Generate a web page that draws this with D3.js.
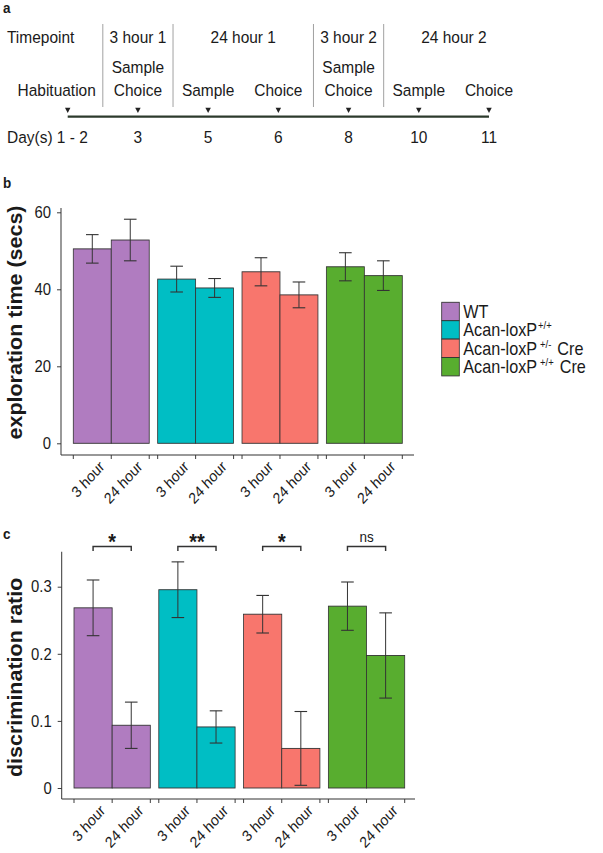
<!DOCTYPE html>
<html><head><meta charset="utf-8">
<script src="https://cdn.jsdelivr.net/npm/d3@7/dist/d3.min.js"></script>
<style>
body{margin:0;background:#fff}
svg{display:block}
text{font-family:"Liberation Sans",Arial,Helvetica,sans-serif;fill:#1a1a1a}
</style>
</head><body>
<svg id="chart" width="603" height="853"></svg>
<script>
// ---------- data ----------
const groups = ["WT", "Acan-loxP+/+", "Acan-loxP+/- Cre", "Acan-loxP+/+ Cre"];
const legendBase = ["WT", "Acan-loxP", "Acan-loxP", "Acan-loxP"];
const legendSup = ["", "+/+", "+/-", "+/+"];
const legendSuffix = ["", "", "Cre", "Cre"];
const timepoints = ["3 hour", "24 hour"];
const colors = ["#B07CC0", "#00BEC4", "#F8766D", "#58AD2F"];

// panel b: exploration time (secs)
const explor3h = [50.5, 42.65, 44.55, 45.85];
const explor3hErr = [3.7, 3.35, 3.65, 3.65];
const explor24h = [52.8, 40.35, 38.55, 43.55];
const explor24hErr = [5.4, 2.45, 3.35, 3.85];
const explorTicks = [0, 20, 40, 60];

// panel c: discrimination ratio
const discr3h = [0.2685, 0.2955, 0.259, 0.271];
const discr3hErr = [0.0415, 0.0415, 0.028, 0.036];
const discr24h = [0.0935, 0.091, 0.059, 0.1975];
const discr24hErr = [0.0345, 0.024, 0.055, 0.0635];
const discrTicks = [0, 0.1, 0.2, 0.3];
const sigLabels = ["*", "**", "*", "ns"];

// panel a: timeline
const eventLabels = ["Habituation", "Choice", "Sample", "Choice", "Choice", "Sample", "Choice"];
const eventAbove = ["", "Sample", "", "", "Sample", "", ""];
const dayLabels = ["1 - 2", "3", "5", "6", "8", "10", "11"];
const periodLabels = ["3 hour 1", "24 hour 1", "3 hour 2", "24 hour 2"];
const periodStart = [1, 2, 4, 5];
const periodEnd = [1, 3, 4, 6];

// ---------- layout ----------
const SX = 0.9;                 // the figure is slightly compressed horizontally
const ux = v => v / SX;
const svg = d3.select("#chart");
const root = svg.append("g").attr("transform", `scale(${SX},1)`);
const INK = "#333";

// panel letters
[["a", 13], ["b", 188], ["c", 539]].forEach(([t, y]) => {
  root.append("text").attr("x", ux(3)).attr("y", y)
    .attr("font-size", 15).attr("font-weight", "bold").text(t);
});

// ---------- panel a ----------
const ev = d3.scalePoint().domain(d3.range(eventLabels.length)).range([ux(67.7), ux(489)]);
const sepX = i => (ev(i - 1) + ev(i)) / 2;
const pa = root.append("g").attr("font-size", 17.2);

periodStart.forEach(s => {
  pa.append("line").attr("x1", sepX(s)).attr("x2", sepX(s))
    .attr("y1", 24).attr("y2", 107).attr("stroke", "#a0a0a0").attr("stroke-width", 1.1);
});
pa.append("text").attr("x", ux(7)).attr("y", 43).text("Timepoint");
periodLabels.forEach((p, i) => {
  pa.append("text").attr("x", (ev(periodStart[i]) + ev(periodEnd[i])) / 2).attr("y", 43)
    .attr("text-anchor", "middle").text(p);
});
eventAbove.forEach((t, i) => {
  if (t) pa.append("text").attr("x", ev(i)).attr("y", 73.5).attr("text-anchor", "middle").text(t);
});
eventLabels.forEach((t, i) => {
  if (i === 0) {
    pa.append("text").attr("x", sepX(1) - ux(7)).attr("y", 96.5).attr("text-anchor", "end").text(t);
  } else {
    pa.append("text").attr("x", ev(i)).attr("y", 96.5).attr("text-anchor", "middle").text(t);
  }
});
pa.append("line").attr("x1", ev(0)).attr("x2", ev(eventLabels.length - 1))
  .attr("y1", 116.7).attr("y2", 116.7).attr("stroke", "#2c3a2c").attr("stroke-width", 2.2);
pa.selectAll("path.tri").data(eventLabels).join("path").attr("class", "tri")
  .attr("d", d3.symbol(d3.symbolTriangle, 16))
  .attr("transform", (d, i) => `translate(${ev(i)},109.5) rotate(180)`)
  .attr("fill", "#222");
dayLabels.forEach((t, i) => {
  if (i === 0) {
    pa.append("text").attr("x", ux(7)).attr("y", 143.5).text("Day(s) " + t);
  } else {
    pa.append("text").attr("x", ev(i)).attr("y", 143.5).attr("text-anchor", "middle").text(t);
  }
});

// ---------- bar panels ----------
function barPanel(o) {
  const g = root.append("g");
  const y = d3.scaleLinear().domain([0, o.ticks[o.ticks.length - 1]]).range([o.y0, o.yTop]);
  const xg = d3.scaleBand().domain(groups).range([ux(o.bandL), ux(o.bandR)]).paddingInner(0.1).paddingOuter(0);
  const xs = d3.scaleBand().domain(timepoints).range([0, xg.bandwidth()]);
  const series = [[o.a, o.aErr], [o.b, o.bErr]];

  const bars = [];
  groups.forEach((grp, i) => {
    timepoints.forEach((tp, j) => {
      bars.push({grp, i, tp, v: series[j][0][i], e: series[j][1][i]});
    });
  });

  g.selectAll("rect.bar").data(bars).join("rect").attr("class", "bar")
    .attr("x", d => xg(d.grp) + xs(d.tp))
    .attr("width", xs.bandwidth())
    .attr("y", d => y(d.v))
    .attr("height", d => y(0) - y(d.v))
    .attr("fill", d => colors[d.i])
    .attr("stroke", INK).attr("stroke-width", 0.9);

  const cx = d => xg(d.grp) + xs(d.tp) + xs.bandwidth() / 2;
  const cap = ux(6.3);
  const eb = g.selectAll("g.err").data(bars).join("g").attr("class", "err")
    .attr("stroke", INK).attr("stroke-width", 1.1);
  eb.append("line").attr("x1", cx).attr("x2", cx).attr("y1", d => y(d.v - d.e)).attr("y2", d => y(d.v + d.e));
  eb.append("line").attr("x1", d => cx(d) - cap).attr("x2", d => cx(d) + cap).attr("y1", d => y(d.v + d.e)).attr("y2", d => y(d.v + d.e));
  eb.append("line").attr("x1", d => cx(d) - cap).attr("x2", d => cx(d) + cap).attr("y1", d => y(d.v - d.e)).attr("y2", d => y(d.v - d.e));

  // y axis
  const ya = g.append("g").attr("transform", `translate(${ux(o.axisX)},0)`)
    .call(d3.axisLeft(y).tickValues(o.ticks).tickSize(ux(4)).tickPadding(ux(6)).tickFormat(o.fmt));
  ya.select(".domain").remove();
  ya.selectAll(".tick line").attr("stroke", INK);
  ya.selectAll(".tick text").attr("font-size", 16.5).attr("fill", "#1a1a1a")
    .attr("font-family", '"Liberation Sans",Arial,Helvetica,sans-serif');
  g.append("line").attr("x1", ux(o.axisX)).attr("x2", ux(o.axisX))
    .attr("y1", o.axisTop).attr("y2", o.axisBottom).attr("stroke", INK).attr("stroke-width", 1.1);

  // x axis
  g.append("line").attr("x1", ux(o.axisX)).attr("x2", ux(o.axisRight))
    .attr("y1", o.axisBottom).attr("y2", o.axisBottom).attr("stroke", INK).attr("stroke-width", 1.1);
  const tickPos = [];
  groups.forEach(grp => {
    tickPos.push(xg(grp), xg(grp) + xg.bandwidth() / 2, xg(grp) + xg.bandwidth());
  });
  g.selectAll("line.xt").data(tickPos).join("line").attr("class", "xt")
    .attr("x1", d => d).attr("x2", d => d)
    .attr("y1", o.axisBottom).attr("y2", o.axisBottom + 4)
    .attr("stroke", INK).attr("stroke-width", 1);
  g.selectAll("text.xl").data(bars).join("text").attr("class", "xl")
    .attr("text-anchor", "end").attr("font-size", 15.5)
    .attr("transform", d => `translate(${cx(d) + ux(13)},${o.axisBottom + o.labelDy}) rotate(-45)`)
    .text(d => d.tp);

  // y title
  g.append("text").attr("transform", `translate(${ux(22)},${(o.titleTop + o.titleBottom) / 2}) rotate(-90)`)
    .attr("text-anchor", "middle").attr("font-size", 21.5).attr("font-weight", "bold").text(o.title);

  return {g, y, xg, xs};
}

barPanel({
  a: explor3h, aErr: explor3hErr, b: explor24h, bErr: explor24hErr,
  ticks: explorTicks, fmt: d3.format("d"),
  y0: 443.3, yTop: 212.3, bandL: 73.3, bandR: 402.3,
  axisX: 61, axisTop: 208, axisBottom: 455, axisRight: 414, labelDy: 12.5,
  title: "exploration time (secs)", titleTop: 205, titleBottom: 440
});

const pc = barPanel({
  a: discr3h, aErr: discr3hErr, b: discr24h, bErr: discr24hErr,
  ticks: discrTicks, fmt: v => v === 0 ? "0" : d3.format(".1f")(v),
  y0: 788, yTop: 586.7, bandL: 74, bandR: 404.7,
  axisX: 61.7, axisTop: 551.7, axisBottom: 799, axisRight: 415, labelDy: 12.5,
  title: "discrimination ratio", titleTop: 576.7, titleBottom: 778
});

// significance brackets
const bracketY = pc.y(0.36);
groups.forEach((grp, i) => {
  const x1 = pc.xg(grp) + pc.xs(timepoints[0]) + pc.xs.bandwidth() / 2;
  const x2 = pc.xg(grp) + pc.xs(timepoints[1]) + pc.xs.bandwidth() / 2;
  pc.g.append("path")
    .attr("d", `M${x1},${bracketY + 4.5}V${bracketY}H${x2}V${bracketY + 4.5}`)
    .attr("fill", "none").attr("stroke", INK).attr("stroke-width", 1.6);
  const isNs = sigLabels[i] === "ns";
  pc.g.append("text").attr("x", (x1 + x2) / 2)
    .attr("y", isNs ? bracketY - 4 : bracketY + 3)
    .attr("text-anchor", "middle")
    .attr("font-size", isNs ? 15 : 22).attr("font-weight", isNs ? "normal" : "bold")
    .text(sigLabels[i]);
});

// legend
const lg = root.append("g");
groups.forEach((grp, i) => {
  const top = 302.3 + i * 18.4;
  lg.append("rect").attr("x", ux(441.7)).attr("y", top).attr("width", ux(17.6)).attr("height", 18.4)
    .attr("fill", colors[i]).attr("stroke", INK).attr("stroke-width", 0.9);
  const t = lg.append("text").attr("x", ux(463.3)).attr("y", top + 15.5).attr("font-size", 18);
  t.append("tspan").text(legendBase[i]);
  if (legendSup[i]) {
    t.append("tspan").attr("dx", legendSuffix[i] ? ux(3) : ux(1)).attr("dy", -7).attr("font-size", 10.5).text(legendSup[i]);
  }
  if (legendSuffix[i]) {
    t.append("tspan").attr("dx", ux(6)).attr("dy", 7).text(legendSuffix[i]);
  }
});
</script>
</body></html>
